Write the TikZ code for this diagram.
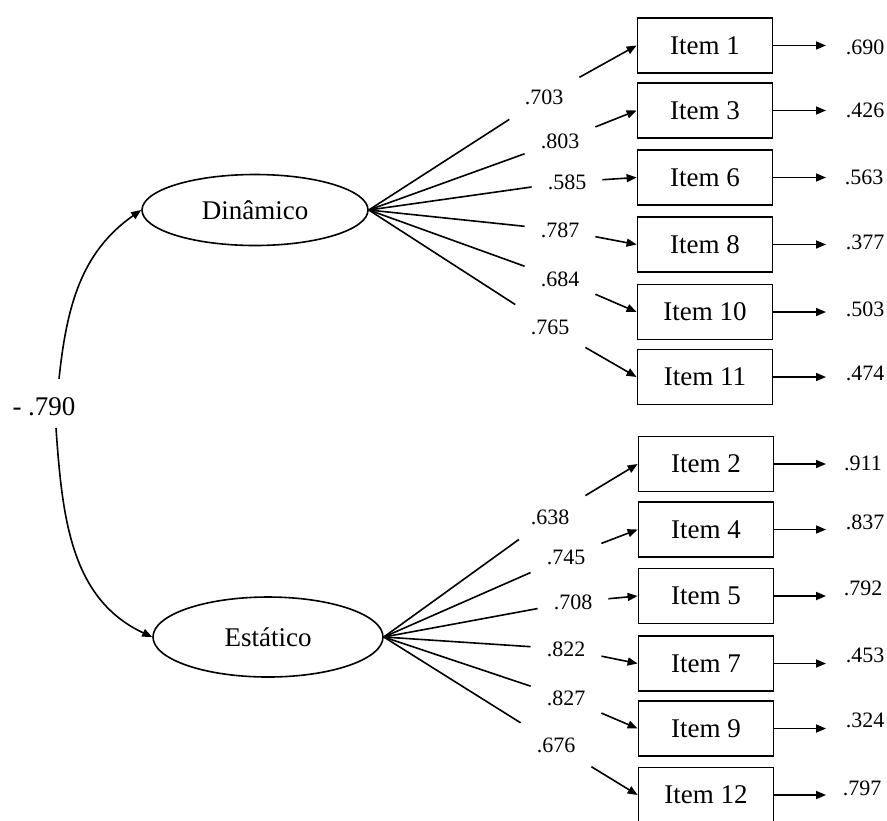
\documentclass[tikz,border=0pt]{standalone}
\usepackage{fontspec}
\setmainfont{Liberation Serif}
\usetikzlibrary{shapes.geometric,arrows.meta}

\begin{document}
\begin{tikzpicture}[x=0.5pt,y=-0.5pt,
	item/.style={draw,line width=0.9pt,minimum width=67.5pt,minimum height=27.5pt,inner sep=0pt,font=\fontsize{13.5}{16}\selectfont},
	factor/.style={draw,ellipse,line width=0.8pt,inner sep=0pt,font=\fontsize{13.5}{16}\selectfont},
	load/.style={minimum width=35pt,minimum height=22pt,inner sep=0pt,font=\fontsize{11}{13}\selectfont},
	err/.style={inner sep=0pt,font=\fontsize{11}{13}\selectfont},
	arr/.style={-{Triangle[length=5pt,width=4pt]},line width=0.8pt}]
		\useasboundingbox (0,0) rectangle (887,820);
		% factors
		\node[factor,minimum width=113pt,minimum height=35.5pt] (din) at (255,210) {Dinâmico};
		\node[factor,minimum width=115pt,minimum height=40pt] (est) at (268,637) {Estático};
		% correlation
		\node[inner sep=0pt,font=\fontsize{13.5}{16}\selectfont] (corr) at (44,407) {- .790};
		\coordinate (ctop) at (59,379);
		\coordinate (cbot) at (56,428);
		\draw[arr] (ctop) to[out=84,in=215] (din.west);
		\draw[arr] (cbot) to[out=-86,in=155] (est.west);
		% items
		\node[item] (i1) at (705,45.5) {Item 1};
		\node[item] (i3) at (705,110.5) {Item 3};
		\node[item] (i6) at (705,177.5) {Item 6};
		\node[item] (i8) at (705,244.5) {Item 8};
		\node[item] (i10) at (705,312) {Item 10};
		\node[item] (i11) at (705,377) {Item 11};
		\node[item] (i2) at (706,464) {Item 2};
		\node[item] (i4) at (706,529.5) {Item 4};
		\node[item] (i5) at (706,596) {Item 5};
		\node[item] (i7) at (706,663.5) {Item 7};
		\node[item] (i9) at (706,728.5) {Item 9};
		\node[item] (i12) at (706,795) {Item 12};
		% loadings
		\node[load] (l1) at (544,97) {.703};
		\node[load] (l3) at (560,141) {.803};
		\node[load] (l6) at (567,182) {.585};
		\node[load] (l8) at (560,230) {.787};
		\node[load] (l10) at (560,279) {.684};
		\node[load] (l11) at (550,327) {.765};
		\node[load] (l2) at (550,517) {.638};
		\node[load] (l4) at (566,557) {.745};
		\node[load] (l5) at (573,602) {.708};
		\node[load] (l7) at (566,649) {.822};
		\node[load] (l9) at (566,698) {.827};
		\node[load] (l12) at (556,745) {.676};
		\draw[arr] (din.east) -- (l1) -- (i1.west);
		\draw[arr] (din.east) -- (l3) -- (i3.west);
		\draw[arr] (din.east) -- (l6) -- (i6.west);
		\draw[arr] (din.east) -- (l8) -- (i8.west);
		\draw[arr] (din.east) -- (l10) -- (i10.west);
		\draw[arr] (din.east) -- (l11) -- (i11.west);
		\draw[arr] (est.east) -- (l2) -- (i2.west);
		\draw[arr] (est.east) -- (l4) -- (i4.west);
		\draw[arr] (est.east) -- (l5) -- (i5.west);
		\draw[arr] (est.east) -- (l7) -- (i7.west);
		\draw[arr] (est.east) -- (l9) -- (i9.west);
		\draw[arr] (est.east) -- (l12) -- (i12.west);
		% residuals
		\coordinate (tip) at (826,0);
		\node[err] (e1) at (865,47) {.690};
		\node[err] (e3) at (865,110) {.426};
		\node[err] (e6) at (864,177) {.563};
		\node[err] (e8) at (865,242) {.377};
		\node[err] (e10) at (865,309) {.503};
		\node[err] (e11) at (865,373) {.474};
		\node[err] (e2) at (863,463) {.911};
		\node[err] (e4) at (865,522) {.837};
		\node[err] (e5) at (863,588) {.792};
		\node[err] (e7) at (865,655) {.453};
		\node[err] (e9) at (865,720) {.324};
		\node[err] (e12) at (862,788) {.797};
		\draw[arr] (i1.east) -- (i1.east -| tip);
		\draw[arr] (i3.east) -- (i3.east -| tip);
		\draw[arr] (i6.east) -- (i6.east -| tip);
		\draw[arr] (i8.east) -- (i8.east -| tip);
		\draw[arr] (i10.east) -- (i10.east -| tip);
		\draw[arr] (i11.east) -- (i11.east -| tip);
		\draw[arr] (i2.east) -- (i2.east -| tip);
		\draw[arr] (i4.east) -- (i4.east -| tip);
		\draw[arr] (i5.east) -- (i5.east -| tip);
		\draw[arr] (i7.east) -- (i7.east -| tip);
		\draw[arr] (i9.east) -- (i9.east -| tip);
		\draw[arr] (i12.east) -- (i12.east -| tip);
		\end{tikzpicture}
\end{document}
